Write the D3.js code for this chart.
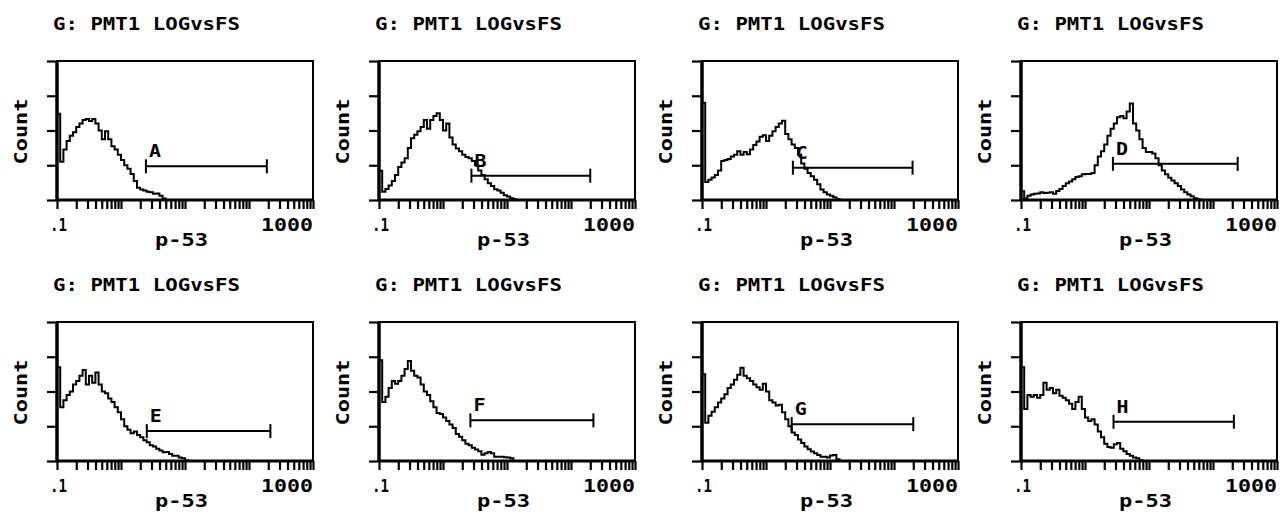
<!DOCTYPE html>
<html>
<head>
<meta charset="utf-8">
<script src="https://cdn.jsdelivr.net/npm/d3@7"></script>
<style>
  body { margin: 0; background: #fff; }
  text { font-family: "DejaVu Sans Mono", monospace; fill: #000; font-weight: bold; }
</style>
</head>
<body>
<script>
// histogram counts, one value per channel (20 channels per decade, starting at 0.1)
var countsA = [2.48, 1.1, 1.45, 1.7, 1.85, 1.95, 2.1, 2.2, 2.3, 2.33, 2.27, 2.33, 2.2, 2.0, 1.75, 1.98, 1.75, 1.55, 1.45, 1.3, 1.15, 1.0, 0.9, 0.75, 0.55, 0.35, 0.3, 0.27, 0.24, 0.22, 0.18, 0.19, 0.12, 0.04];
var countsB = [0.84, 0.24, 0.32, 0.42, 0.55, 0.72, 0.95, 1.08, 1.2, 1.5, 1.78, 1.88, 1.98, 2.1, 2.3, 2.05, 2.3, 2.42, 2.5, 2.3, 2.0, 2.2, 1.8, 1.6, 1.48, 1.4, 1.3, 1.24, 1.2, 1.12, 1.0, 0.85, 0.72, 0.6, 0.48, 0.4, 0.31, 0.27, 0.21, 0.14, 0.1, 0.05, 0.02];
var countsC = [2.8, 0.52, 0.58, 0.65, 0.72, 0.85, 1.12, 1.15, 1.18, 1.25, 1.3, 1.4, 1.3, 1.38, 1.32, 1.45, 1.58, 1.68, 1.82, 1.86, 1.7, 1.85, 1.98, 2.1, 2.2, 2.28, 1.9, 1.75, 1.6, 1.5, 1.3, 1.05, 0.9, 0.78, 0.68, 0.58, 0.45, 0.3, 0.22, 0.16, 0.12, 0.08, 0.03];
var countsD = [0.25, 0.05, 0.12, 0.16, 0.18, 0.19, 0.22, 0.2, 0.21, 0.22, 0.18, 0.26, 0.32, 0.4, 0.48, 0.53, 0.6, 0.66, 0.68, 0.74, 0.75, 0.75, 0.78, 1.0, 1.25, 1.4, 1.6, 1.85, 2.05, 2.2, 2.38, 2.42, 2.35, 2.55, 2.78, 2.2, 2.0, 1.75, 1.5, 1.38, 1.38, 1.34, 1.2, 1.0, 0.85, 0.74, 0.64, 0.56, 0.48, 0.4, 0.3, 0.22, 0.16, 0.11, 0.05, 0.02];
var countsE = [2.7, 1.55, 1.75, 1.9, 2.0, 2.2, 2.3, 2.45, 2.62, 2.2, 2.45, 2.25, 2.55, 2.2, 2.0, 1.95, 1.8, 1.7, 1.55, 1.4, 1.2, 1.0, 0.9, 0.8, 0.85, 0.75, 0.68, 0.6, 0.54, 0.45, 0.42, 0.35, 0.3, 0.25, 0.26, 0.2, 0.15, 0.15, 0.1, 0.08, 0.02];
var countsF = [2.9, 1.7, 1.85, 2.1, 2.3, 2.22, 2.3, 2.45, 2.65, 2.88, 2.6, 2.45, 2.4, 2.2, 2.0, 1.9, 1.72, 1.55, 1.38, 1.35, 1.25, 1.15, 1.05, 0.95, 0.78, 0.7, 0.6, 0.5, 0.45, 0.38, 0.33, 0.28, 0.18, 0.22, 0.26, 0.22, 0.12, 0.12, 0.12, 0.11, 0.1, 0.08];
var countsG = [2.5, 1.1, 1.3, 1.42, 1.55, 1.68, 1.8, 1.92, 2.1, 2.2, 2.34, 2.48, 2.68, 2.45, 2.38, 2.3, 2.2, 2.12, 2.05, 2.22, 2.0, 1.75, 1.68, 1.6, 1.62, 1.4, 1.2, 1.0, 0.82, 0.75, 0.62, 0.52, 0.42, 0.34, 0.27, 0.22, 0.17, 0.12, 0.12, 0.1, 0.16, 0.17, 0.05];
var countsH = [2.7, 1.5, 1.9, 1.85, 1.9, 1.82, 1.9, 2.25, 2.05, 2.1, 1.95, 2.05, 1.88, 1.82, 1.75, 1.65, 1.5, 1.7, 1.85, 1.5, 1.25, 1.15, 1.2, 1.05, 0.85, 0.68, 0.5, 0.4, 0.38, 0.48, 0.52, 0.35, 0.28, 0.2, 0.15, 0.1, 0.08, 0.02];

// gate markers
var gateLetters = ['A', 'B', 'C', 'D', 'E', 'F', 'G', 'H'];
var gateLow = [2.45, 2.78, 2.63, 2.73, 2.53, 2.68, 2.52, 2.79];
var gateHigh = [190, 200, 195, 243, 216, 224, 200, 212];
var gateLevel = [0.97, 0.70, 0.93, 1.04, 0.86, 1.17, 1.06, 1.13];

var TITLE = 'G: PMT1 LOGvsFS';
var X_LABEL = 'p-53';
var Y_LABEL = 'Count';
var xTickLabels = ['.1', '1000'];
var X_DOMAIN = [0.1, 1000];
var Y_DOMAIN = [0, 4];
var BINS_PER_DECADE = 20;

var allCounts = [countsA, countsB, countsC, countsD, countsE, countsF, countsG, countsH];

var WIDTH = 1285;
var HEIGHT = 516;
var COL_X = [57, 379, 702, 1021];
var ROW_Y = [61, 322];
var BOX_W = 256;
var BOX_H = 139;

var svg = d3.select('body').append('svg')
    .attr('width', WIDTH)
    .attr('height', HEIGHT)
    .style('background-color', '#fff');

var x = d3.scaleLog().domain(X_DOMAIN).range([0, BOX_W]);
var y = d3.scaleLinear().domain(Y_DOMAIN).range([BOX_H, 0]);

var line = d3.line()
    .x(function(d){ return x(d[0]); })
    .y(function(d){ return y(d[1]); })
    .curve(d3.curveStepAfter);

allCounts.forEach(function(counts, i){
    var col = i % 4, row = Math.floor(i / 4);
    var g = svg.append('g')
        .attr('transform', 'translate(' + COL_X[col] + ',' + ROW_Y[row] + ')');

    // title
    g.append('text')
        .attr('x', -4)
        .attr('y', -31)
        .attr('font-size', 17)
        .attr('textLength', 187)
        .attr('lengthAdjust', 'spacingAndGlyphs')
        .text(TITLE);

    // ticks
    var xAxis = g.append('g')
        .attr('transform', 'translate(0,' + BOX_H + ')')
        .call(d3.axisBottom(x).tickValues(x.ticks()).tickSize(9).tickFormat(''));
    var yAxis = g.append('g')
        .call(d3.axisLeft(y).ticks(4).tickSize(10).tickFormat(''));
    [xAxis, yAxis].forEach(function(a){
        a.select('.domain').remove();
        a.selectAll('line').attr('stroke', '#000').attr('stroke-width', 2.2);
    });

    // box
    g.append('rect')
        .attr('width', BOX_W)
        .attr('height', BOX_H)
        .attr('fill', 'none')
        .attr('stroke', '#000')
        .attr('stroke-width', 2);
    g.append('line')
        .attr('x1', 0).attr('x2', 0).attr('y1', 0).attr('y2', BOX_H + 1)
        .attr('stroke', '#000').attr('stroke-width', 3.5);
    g.append('line')
        .attr('x1', 0).attr('x2', BOX_W + 1).attr('y1', BOX_H).attr('y2', BOX_H)
        .attr('stroke', '#000').attr('stroke-width', 3);

    // histogram
    var pts = [[X_DOMAIN[0], 0]];
    counts.forEach(function(c, b){
        pts.push([X_DOMAIN[0] * Math.pow(10, b / BINS_PER_DECADE), c]);
    });
    pts.push([X_DOMAIN[0] * Math.pow(10, counts.length / BINS_PER_DECADE), 0]);
    g.append('path')
        .attr('d', line(pts))
        .attr('fill', 'none')
        .attr('stroke', '#000')
        .attr('stroke-width', 2);

    // gate
    var gy = y(gateLevel[i]), gx0 = x(gateLow[i]), gx1 = x(gateHigh[i]);
    g.append('line')
        .attr('x1', gx0).attr('x2', gx1).attr('y1', gy).attr('y2', gy)
        .attr('stroke', '#000').attr('stroke-width', 2);
    [gx0, gx1].forEach(function(cx){
        g.append('line')
            .attr('x1', cx).attr('x2', cx).attr('y1', gy - 7).attr('y2', gy + 7)
            .attr('stroke', '#000').attr('stroke-width', 2);
    });
    g.append('text')
        .attr('x', gx0 + 3)
        .attr('y', gy - 9)
        .attr('font-size', 18)
        .attr('font-weight', 'normal')
        .attr('textLength', 12)
        .attr('lengthAdjust', 'spacingAndGlyphs')
        .text(gateLetters[i]);

    // axis labels
    g.append('text')
        .attr('x', -7)
        .attr('y', BOX_H + 31)
        .attr('font-size', 17)
        .attr('textLength', 17)
        .attr('lengthAdjust', 'spacingAndGlyphs')
        .text(xTickLabels[0]);
    g.append('text')
        .attr('x', BOX_W - 52)
        .attr('y', BOX_H + 31)
        .attr('font-size', 17)
        .attr('textLength', 52)
        .attr('lengthAdjust', 'spacingAndGlyphs')
        .text(xTickLabels[1]);
    g.append('text')
        .attr('x', 98)
        .attr('y', BOX_H + 46)
        .attr('font-size', 17)
        .attr('font-weight', 'normal')
        .attr('textLength', 53)
        .attr('lengthAdjust', 'spacingAndGlyphs')
        .text(X_LABEL);
    g.append('text')
        .attr('transform', 'translate(-30,' + (BOX_H / 2 + 34) + ') rotate(-90)')
        .attr('font-size', 18)
        .attr('textLength', 66)
        .attr('lengthAdjust', 'spacingAndGlyphs')
        .text(Y_LABEL);
});
</script>
</body>
</html>
